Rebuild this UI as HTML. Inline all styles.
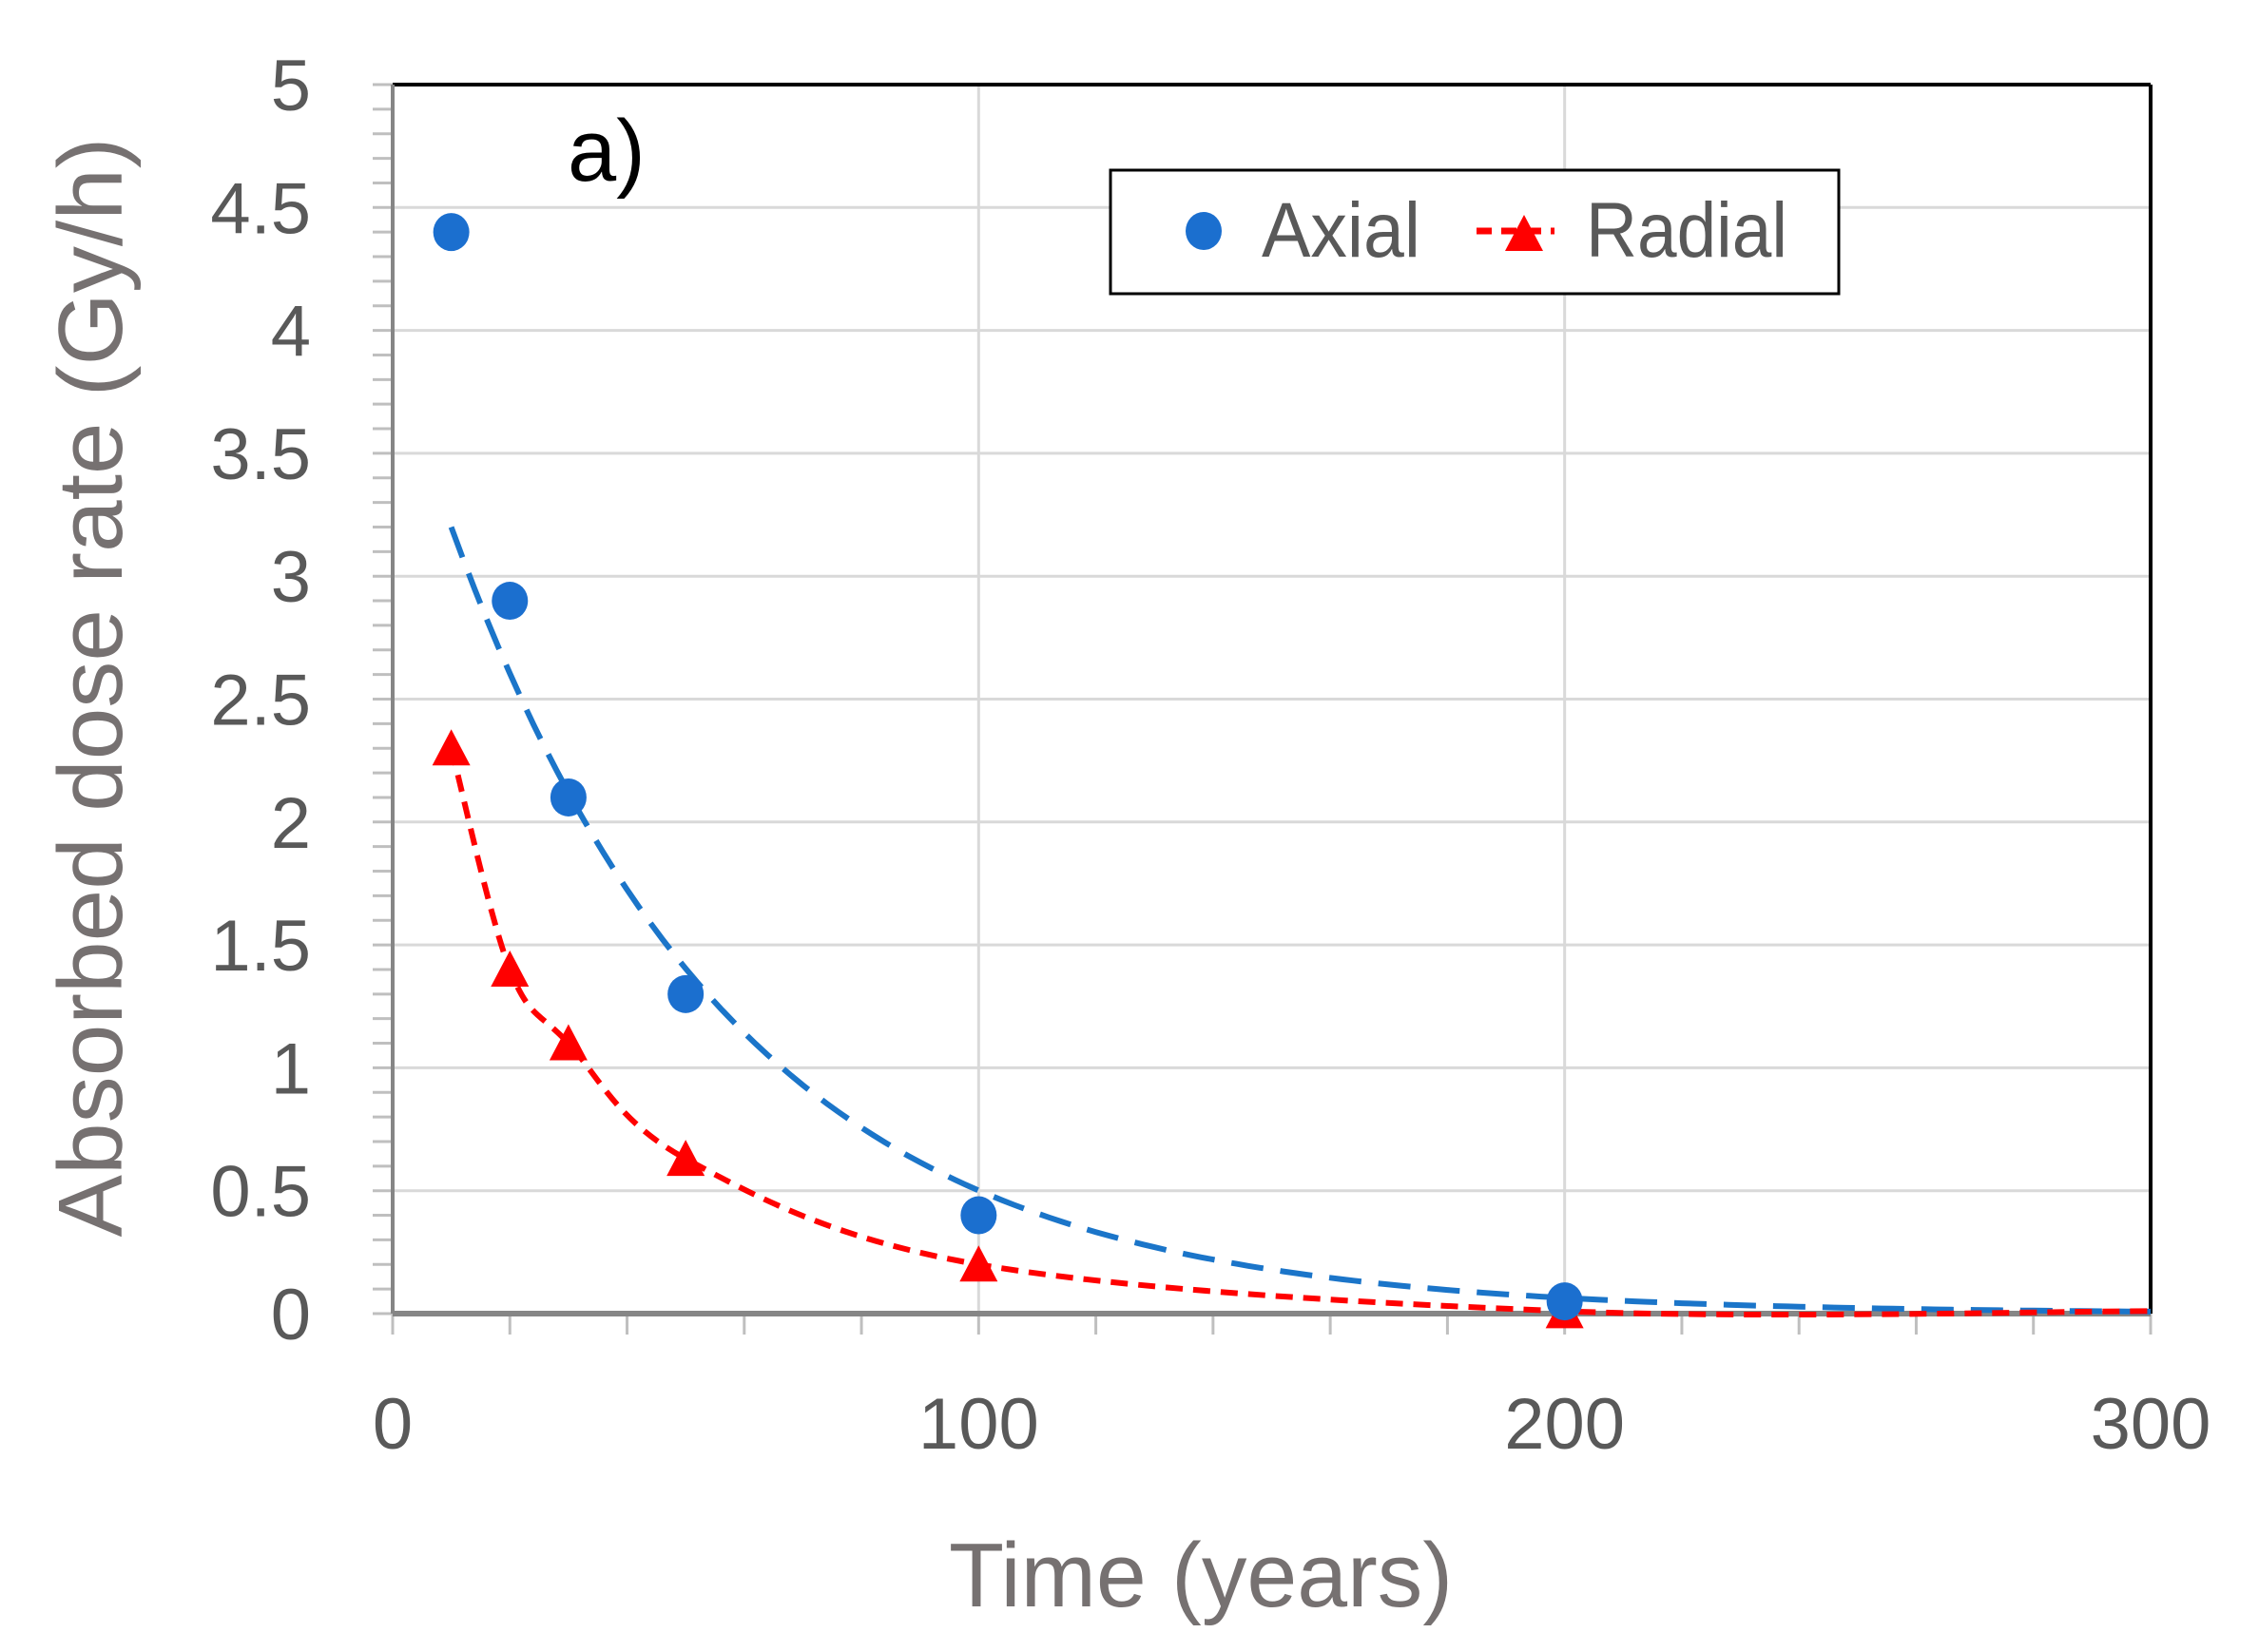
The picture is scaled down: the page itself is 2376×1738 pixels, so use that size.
<!DOCTYPE html>
<html><head><meta charset="utf-8"><style>
html,body{margin:0;padding:0;background:#fff;}
svg{display:block;font-family:"Liberation Sans",sans-serif;}
</style></head><body>
<svg id="chart" width="2376" height="1738" viewBox="0 0 2376 1738" xmlns="http://www.w3.org/2000/svg">
<g id="grid"></g>
<g id="axes"></g>
<g id="series"></g>
<text x="597" y="190" font-size="92" fill="#000">a)</text>
<text transform="translate(128,723) rotate(-90)" text-anchor="middle" font-size="96" fill="#767171" textLength="1157" lengthAdjust="spacingAndGlyphs">Absorbed dose rate (Gy/h)</text>
<text x="1263" y="1690" text-anchor="middle" font-size="96" fill="#767171" textLength="530" lengthAdjust="spacingAndGlyphs">Time (years)</text>
<g>
<rect x="1168" y="179" width="766" height="130" fill="#fff" stroke="#000" stroke-width="3"/>
<g>
<ellipse cx="1266" cy="243" rx="19" ry="20" fill="#1b6fcf"/>
<text x="1327" y="270" font-size="82" fill="#595959" textLength="167" lengthAdjust="spacingAndGlyphs">Axial</text>
</g>
<g>
<line x1="1553" y1="243" x2="1635" y2="243" stroke="#ff0000" stroke-width="7" stroke-dasharray="16,10"/>
<polygon points="1603,226 1623,264 1583,264" fill="#ff0000"/>
<text x="1668" y="270" font-size="82" fill="#595959" textLength="212" lengthAdjust="spacingAndGlyphs">Radial</text>
</g>
</g>
</svg>
<script>
const xTicks = [0, 100, 200, 300];
const yTicks = [0, 0.5, 1, 1.5, 2, 2.5, 3, 3.5, 4, 4.5, 5];
const yTickLabels = ["0", "0.5", "1", "1.5", "2", "2.5", "3", "3.5", "4", "4.5", "5"];
const xTickLabels = ["0", "100", "200", "300"];
const axialX = [10, 20, 30, 50, 100, 200];
const axialY = [4.4, 2.9, 2.1, 1.3, 0.4, 0.05];
const radialX = [10, 20, 30, 50, 100, 200];
const radialY = [2.3, 1.4, 1.1, 0.63, 0.2, 0.01];
const radialLineX = [10, 20, 30, 50, 100, 200, 300];
const radialLineY = [2.3, 1.4, 1.1, 0.63, 0.2, 0.01, 0.01];
const axialTrendParams = [3.2, 0.0206]; // a*exp(-k*(t-10))
const trendRange = [10, 300];

const X0 = 413, X1 = 2262, Y0 = 1382, Y1 = 89;
const xs = v => X0 + (v - 0) / 300 * (X1 - X0);
const ys = v => Y0 - v / 5 * (Y0 - Y1);
const NS = "http://www.w3.org/2000/svg";
function mk(tag, attrs, parent) {
  const e = document.createElementNS(NS, tag);
  for (const k in attrs) e.setAttribute(k, attrs[k]);
  parent.appendChild(e);
  return e;
}
const grid = document.getElementById('grid');
const axes = document.getElementById('axes');
const series = document.getElementById('series');

yTicks.forEach((t, i) => {
  if (t > 0 && t < 5) {
    const l = mk('line', {x1: X0, x2: X1, y1: ys(t), y2: ys(t), stroke: '#d9d9d9', 'stroke-width': 3}, grid);
    
    
  }
  const tx = mk('text', {x: 327, y: ys(t) + 27, 'text-anchor': 'end', 'font-size': 76, fill: '#595959'}, axes);
  tx.textContent = yTickLabels[i];
  
  
});
xTicks.forEach((t, i) => {
  if (t > 0 && t < 300) {
    const l = mk('line', {x1: xs(t), x2: xs(t), y1: Y1, y2: Y0, stroke: '#d9d9d9', 'stroke-width': 3}, grid);
    
    
  }
  const tx = mk('text', {x: xs(t), y: 1524, 'text-anchor': 'middle', 'font-size': 76, fill: '#595959'}, axes);
  tx.textContent = xTickLabels[i];
  
  
});
for (let i = 0; i <= 50; i++) {
  const v = i * 0.1;
  const l = mk('line', {x1: 392, x2: X0, y1: ys(v), y2: ys(v), stroke: '#bfbfbf', 'stroke-width': 3}, axes);
  
  
}
for (let i = 0; i <= 15; i++) {
  const v = i * 20;
  const l = mk('line', {x1: xs(v), x2: xs(v), y1: Y0, y2: Y0 + 22, stroke: '#bfbfbf', 'stroke-width': 3}, axes);
  
  
}
let f = mk('line', {x1: X0, x2: X1, y1: Y1, y2: Y1, stroke: '#000', 'stroke-width': 4}, axes);


f = mk('line', {x1: X1, x2: X1, y1: Y1, y2: Y0, stroke: '#000', 'stroke-width': 4}, axes);


f = mk('line', {x1: X0, x2: X0, y1: Y1, y2: Y0, stroke: '#868686', 'stroke-width': 4}, axes);


f = mk('line', {x1: X0, x2: X1, y1: Y0, y2: Y0, stroke: '#868686', 'stroke-width': 6}, axes);



let d = '';
for (let t = trendRange[0]; t <= trendRange[1]; t += 2) {
  const v = axialTrendParams[0] * Math.exp(-axialTrendParams[1] * (t - trendRange[0]));
  d += (d ? 'L' : 'M') + xs(t).toFixed(1) + ',' + ys(v).toFixed(1);
}
const tr = mk('path', {d: d, fill: 'none', stroke: '#1b75c9', 'stroke-width': 6, 'stroke-dasharray': '34,18'}, series);



const pts = radialLineX.map((x, i) => [xs(x), ys(radialLineY[i])]);
let rd = 'M' + pts[0][0] + ',' + pts[0][1];
for (let i = 0; i < pts.length - 1; i++) {
  const p0 = pts[i - 1] || pts[i], p1 = pts[i], p2 = pts[i + 1], p3 = pts[i + 2] || p2;
  const c1 = [p1[0] + (p2[0] - p0[0]) / 6, p1[1] + (p2[1] - p0[1]) / 6];
  const c2 = [p2[0] - (p3[0] - p1[0]) / 6, p2[1] - (p3[1] - p1[1]) / 6];
  rd += 'C' + c1.join(',') + ' ' + c2.join(',') + ' ' + p2.join(',');
}
const rl = mk('path', {d: rd, fill: 'none', stroke: '#ff0000', 'stroke-width': 6, 'stroke-dasharray': '18,11'}, series);



radialX.forEach((x, i) => {
  const cx = xs(x), cy = ys(radialY[i]);
  const p = mk('polygon', {points: `${cx},${cy - 20} ${cx + 20},${cy + 18} ${cx - 20},${cy + 18}`, fill: '#ff0000'}, series);
  
  
});
axialX.forEach((x, i) => {
  const c = mk('ellipse', {cx: xs(x), cy: ys(axialY[i]), rx: 19, ry: 20, fill: '#1b6fcf'}, series);
  
  
});
</script>
</body></html>
